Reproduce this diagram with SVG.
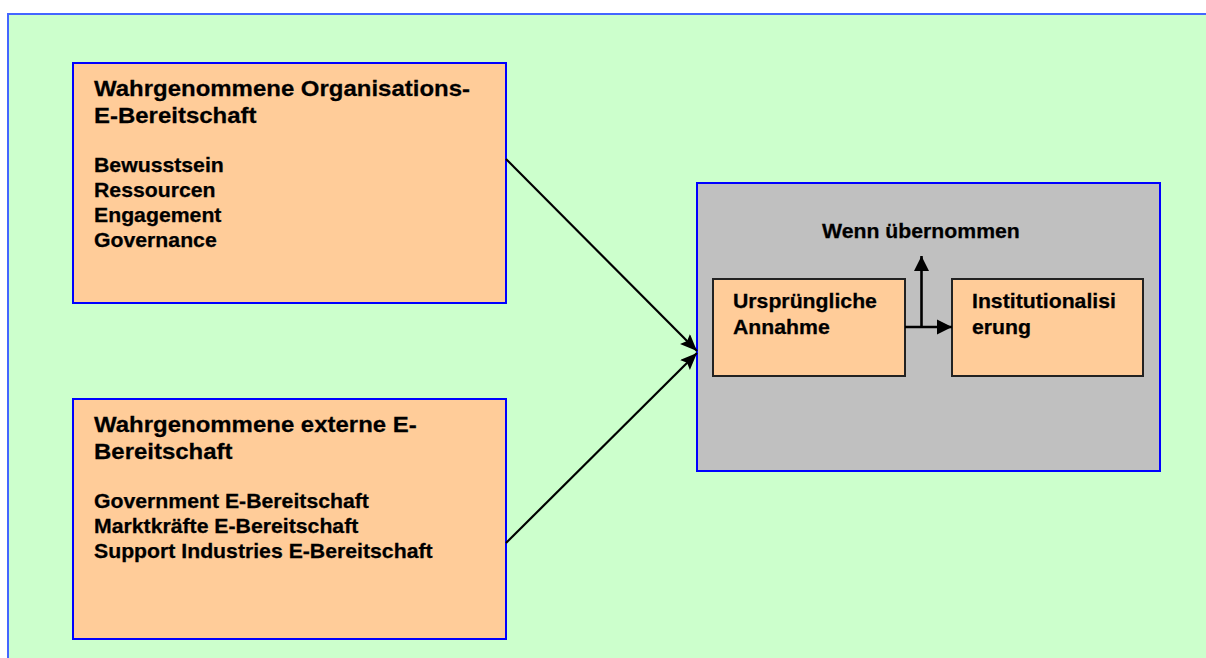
<svg xmlns="http://www.w3.org/2000/svg" width="1206" height="658" viewBox="0 0 1206 658">
  <style>
    .frame { fill: #ccffcc; stroke: #4466ff; stroke-width: 2; }
    .box { fill: #ffcc99; stroke: #0000ff; stroke-width: 2; }
    .stage { fill: #c0c0c0; stroke: #0000ff; stroke-width: 2; }
    .inner { fill: #ffcc99; stroke: #222222; stroke-width: 2; }
    .conn { stroke: #000000; stroke-width: 2.2; fill: none; }
    .thick { stroke: #000000; stroke-width: 2.6; fill: none; }
    text { font-family: "Liberation Sans", Arial, sans-serif; font-weight: bold; fill: #000000; stroke: #000000; stroke-width: 0.25; }
    .h { font-size: 22px; }
    .b { font-size: 19.5px; }
  </style>
  <defs>
    <marker id="head" markerUnits="userSpaceOnUse" markerWidth="20" markerHeight="16" refX="17" refY="7" orient="auto">
      <path d="M0,0 L17,7 L0,14 L3,7 Z" fill="#000000"/>
    </marker>
    <marker id="headSmall" markerUnits="userSpaceOnUse" markerWidth="16" markerHeight="16" refX="15" refY="8" orient="auto">
      <path d="M0,0.5 L15,8 L0,15.5 Z" fill="#000000"/>
    </marker>
  </defs>

  <!-- background panel -->
  <rect class="frame" x="8" y="14" width="1210" height="660"/>

  <!-- organisational readiness -->
  <g id="org-readiness">
    <rect class="box" x="73" y="63" width="433" height="240"/>
    <g transform="translate(94 0) scale(1.09 1)">
      <text class="h" x="0" y="96">Wahrgenommene Organisations-</text>
      <text class="h" x="0" y="123">E-Bereitschaft</text>
      <text class="b" x="0" y="172">Bewusstsein</text>
      <text class="b" x="0" y="197">Ressourcen</text>
      <text class="b" x="0" y="222">Engagement</text>
      <text class="b" x="0" y="247">Governance</text>
    </g>
  </g>

  <!-- external readiness -->
  <g id="ext-readiness">
    <rect class="box" x="73" y="399" width="433" height="240"/>
    <g transform="translate(94 0) scale(1.09 1)">
      <text class="h" x="0" y="432">Wahrgenommene externe E-</text>
      <text class="h" x="0" y="459">Bereitschaft</text>
      <text class="b" x="0" y="508">Government E-Bereitschaft</text>
      <text class="b" x="0" y="533">Marktkräfte E-Bereitschaft</text>
      <text class="b" x="0" y="558">Support Industries E-Bereitschaft</text>
    </g>
  </g>

  <!-- adoption stage container -->
  <g id="adoption">
    <rect class="stage" x="697" y="183" width="463" height="288"/>
    <g transform="translate(822 0) scale(1.09 1)">
      <text class="b" x="0" y="238">Wenn übernommen</text>
    </g>
  </g>

  <g id="initial-adoption">
    <rect class="inner" x="713" y="279" width="192" height="97"/>
    <g transform="translate(733 0) scale(1.09 1)">
      <text class="b" x="0" y="308">Ursprüngliche</text>
      <text class="b" x="0" y="334">Annahme</text>
    </g>
  </g>

  <g id="institutionalisation">
    <rect class="inner" x="952" y="279" width="191" height="97"/>
    <g transform="translate(972 0) scale(1.09 1)">
      <text class="b" x="0" y="308">Institutionalisi</text>
      <text class="b" x="0" y="334">erung</text>
    </g>
  </g>

  <!-- connectors -->
  <g id="connectors">
    <line class="conn" x1="506" y1="159" x2="697" y2="351" marker-end="url(#head)"/>
    <line class="conn" x1="506" y1="543" x2="697" y2="353" marker-end="url(#head)"/>
    <line class="thick" x1="905" y1="327" x2="952" y2="327" marker-end="url(#headSmall)"/>
    <line class="thick" x1="921.5" y1="327" x2="921.5" y2="256" marker-end="url(#headSmall)"/>
  </g>
</svg>
